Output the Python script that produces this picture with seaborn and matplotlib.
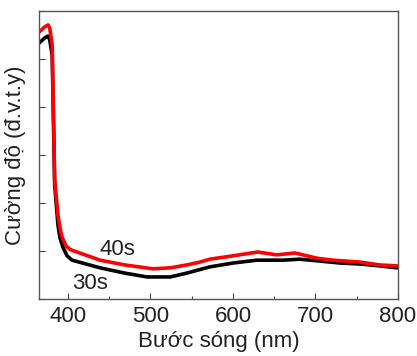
import matplotlib
matplotlib.use("Agg")
import matplotlib.pyplot as plt
import seaborn as sns
import pandas as pd
from matplotlib.ticker import MultipleLocator, NullFormatter

# Dữ liệu
buoc_song_40 = [365, 372, 376, 378, 381, 384, 388, 390.5, 393, 398, 403, 411, 439, 469,
                503, 524, 544, 560, 572, 600, 630, 653, 675, 702, 721, 754, 778, 799]
cuong_do_40 = [5.56, 5.67, 5.71, 5.65, 5.29, 2.48, 1.75, 1.48, 1.29, 1.10, 1.03, 0.98,
               0.81, 0.71, 0.63, 0.65, 0.71, 0.77, 0.83, 0.90, 0.98, 0.92, 0.96, 0.85,
               0.81, 0.77, 0.71, 0.69]

buoc_song_30 = [365, 372, 376, 378, 381, 384, 388, 390.5, 394, 399, 405, 439, 469, 496,
                524, 544, 572, 600, 629, 661, 681, 706, 730, 754, 778, 799]
cuong_do_30 = [5.33, 5.44, 5.48, 5.40, 5.08, 2.38, 1.54, 1.27, 1.08, 0.90, 0.81, 0.65,
               0.54, 0.46, 0.46, 0.54, 0.67, 0.75, 0.81, 0.81, 0.83, 0.79, 0.75, 0.73,
               0.69, 0.65]

mau_sac = {"30s": "black", "40s": "#ff0000"}

df = pd.concat([
    pd.DataFrame({"x": buoc_song_30, "y": cuong_do_30, "mau": "30s"}),
    pd.DataFrame({"x": buoc_song_40, "y": cuong_do_40, "mau": "40s"}),
])

sns.set_style("ticks")
plt.rcParams['font.family'] = ['Liberation Sans', 'DejaVu Sans']
plt.rcParams['xtick.direction'] = 'in'
plt.rcParams['ytick.direction'] = 'in'

fig = plt.figure(figsize=(4.17, 3.56), dpi=100)
ax = fig.add_axes([0.0935, 0.160, 0.861, 0.809])

sns.lineplot(data=df, x="x", y="y", hue="mau", palette=mau_sac, linewidth=2.6,
             legend=False, ax=ax, sort=False)

ax.set_xlim(365, 800)
ax.set_ylim(0, 6)
ax.xaxis.set_major_locator(MultipleLocator(100))
ax.xaxis.set_minor_locator(MultipleLocator(50))
ax.yaxis.set_major_locator(MultipleLocator(1))
ax.yaxis.set_major_formatter(NullFormatter())
ax.tick_params(axis='both', which='major', length=4, width=0.8, color='#444444',
               labelsize=16, colors='#222222')
ax.tick_params(axis='x', which='minor', length=2.5, width=0.8, color='#444444')
ax.tick_params(axis='x', which='major', pad=5)
for s in ax.spines.values():
    s.set_color('#555555')
    s.set_linewidth(1.0)

ax.set_xlabel('Bước sóng (nm)', fontsize=16, color='#222222', labelpad=3)
ax.set_ylabel('Cường độ (đ.v.t.y)', fontsize=16, color='#222222', labelpad=6)

ax.text(460, 1.04, '40s', fontsize=16, ha='center', va='center', color='#222222')
ax.text(427, 0.33, '30s', fontsize=16, ha='center', va='center', color='#222222')

plt.savefig('out.png', dpi=100)
